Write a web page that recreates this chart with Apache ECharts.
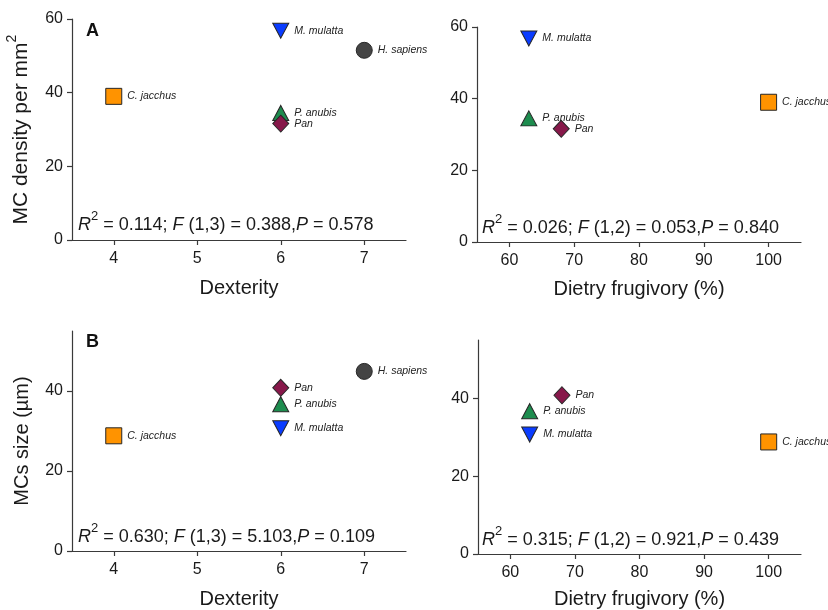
<!DOCTYPE html>
<html>
<head>
<meta charset="utf-8">
<script src="https://cdn.jsdelivr.net/npm/echarts@6/dist/echarts.min.js"></script>
<style>
  html, body { margin: 0; padding: 0; background: #fff; }
  #chart { width: 828px; height: 610px; }
</style>
</head>
<body>
<div id="chart"></div>
<script>
// values
const species = ['C. jacchus', 'M. mulatta', 'H. sapiens', 'P. anubis', 'Pan'];
const dexterity = [4, 6, 7, 6, 6];
const frugivory = [100, 63, null, 63, 68]; // no diet value for H. sapiens
const mcDensity = [39, 56.8, 51.5, 34.5, 31.6];
const mcSize = [28.8, 30.7, 44.9, 36.7, 40.8];

const dexTicks = [4, 5, 6, 7];
const frugTicks = [60, 70, 80, 90, 100];
const densityTicks = [0, 20, 40, 60];
const sizeTicks = [0, 20, 40];

// R2, df, F, P for each panel
const stats = [
  ['0.114', '1,3', '0.388', '0.578'],
  ['0.026', '1,2', '0.053', '0.840'],
  ['0.630', '1,3', '5.103', '0.109'],
  ['0.315', '1,2', '0.921', '0.439']
];

const FONT = 'Liberation Sans, Arial, Helvetica, sans-serif';
const INK = '#1a1a1a';
const AXIS = '#3a3a3a';

const markers = {
  'C. jacchus': { symbol: 'rect', size: 16, rotate: 0, color: '#ff9300' },
  'M. mulatta': { symbol: 'triangle', size: [16, 15], rotate: 180, color: '#0a3cff' },
  'H. sapiens': { symbol: 'circle', size: 16, rotate: 0, color: '#444444' },
  'P. anubis': { symbol: 'triangle', size: [16, 15], rotate: 0, color: '#1d8c4e' },
  'Pan': { symbol: 'diamond', size: [16, 17], rotate: 0, color: '#87184a' }
};

function points(xs, ys) {
  const out = [];
  species.forEach((name, i) => {
    if (xs[i] == null) return;
    const m = markers[name];
    out.push({
      name: name,
      value: [xs[i], ys[i]],
      symbol: m.symbol,
      symbolSize: m.size,
      symbolRotate: m.rotate,
      itemStyle: { color: m.color, opacity: 1, borderColor: '#262626', borderWidth: 1 }
    });
  });
  return out;
}

const grids = [
  { left: 72, top: 19, width: 334, height: 221 },
  { left: 477, top: 27, width: 324, height: 215 },
  { left: 72, top: 331, width: 334, height: 221 },
  { left: 478, top: 340, width: 323, height: 215 }
];

function xAxis(idx, name, min, max, ticks, gap) {
  return {
    type: 'value', gridIndex: idx, min: min, max: max,
    name: name, nameLocation: 'middle', nameGap: gap,
    nameTextStyle: { fontFamily: FONT, fontSize: 20, color: INK },
    axisLine: { show: true, lineStyle: { color: AXIS, width: 1.2 } },
    axisTick: { show: true, length: 5, customValues: ticks, lineStyle: { color: AXIS, width: 1.2 } },
    axisLabel: { customValues: ticks, margin: 11, fontFamily: FONT, fontSize: 16, color: INK },
    splitLine: { show: false }
  };
}

function yAxis(idx, name, max, ticks, nameSize) {
  const ax = {
    type: 'value', gridIndex: idx, min: 0, max: max,
    axisLine: { show: true, onZero: false, lineStyle: { color: AXIS, width: 1.2 } },
    axisTick: { show: true, length: 5, customValues: ticks, lineStyle: { color: AXIS, width: 1.2 } },
    axisLabel: { customValues: ticks, margin: 9, fontFamily: FONT, fontSize: 16, color: INK },
    splitLine: { show: false }
  };
  if (name) {
    ax.name = name;
    ax.nameLocation = 'middle';
    ax.nameGap = 40;
    ax.nameTextStyle = {
      fontFamily: FONT, color: INK,
      rich: {
        n: { fontFamily: FONT, fontSize: nameSize, color: INK, lineHeight: nameSize, verticalAlign: 'bottom' },
        sup: { fontFamily: FONT, fontSize: 14, color: INK, lineHeight: 14, verticalAlign: 'top' },
        sp: { fontSize: 1, lineHeight: nameSize + 6, verticalAlign: 'bottom' }
      }
    };
  }
  return ax;
}

function series(idx, xs, ys) {
  return {
    type: 'scatter', xAxisIndex: idx, yAxisIndex: idx,
    data: points(xs, ys),
    label: {
      show: true, position: 'right', distance: 5,
      formatter: p => p.name,
      fontFamily: FONT, fontStyle: 'italic', fontSize: 10.5, color: '#222'
    }
  };
}

function statText(s, left, top) {
  return {
    type: 'text', left: left, top: top,
    style: {
      text: '{i|R}{sup|2}{sp| }{t|= ' + s[0] + '; }{i|F}{t| (' + s[1] + ') = ' + s[2] + ',}{i|P}{t| = ' + s[3] + '}',
      rich: {
        i: { fontFamily: FONT, fontStyle: 'italic', fontSize: 18, lineHeight: 18, verticalAlign: 'bottom', fill: INK },
        t: { fontFamily: FONT, fontSize: 18, lineHeight: 18, verticalAlign: 'bottom', fill: INK },
        sup: { fontFamily: FONT, fontSize: 13, lineHeight: 13, verticalAlign: 'top', fill: INK },
        sp: { fontFamily: FONT, fontSize: 18, lineHeight: 24, verticalAlign: 'bottom', fill: INK }
      }
    }
  };
}

const chart = echarts.init(document.getElementById('chart'), null, { renderer: 'canvas' });
chart.setOption({
  backgroundColor: '#fff',
  animation: false,
  grid: grids,
  xAxis: [
    xAxis(0, 'Dexterity', 3.5, 7.5, dexTicks, 38),
    xAxis(1, 'Dietry frugivory (%)', 55, 105, frugTicks, 37),
    xAxis(2, 'Dexterity', 3.5, 7.5, dexTicks, 38),
    xAxis(3, 'Dietry frugivory (%)', 55, 105, frugTicks, 35)
  ],
  yAxis: [
    yAxis(0, '{n|MC density per mm}{sup|2}{sp| }', 60, densityTicks, 21),
    yAxis(1, null, 60, densityTicks),
    yAxis(2, '{n|MCs size (µm)}', 55, sizeTicks, 20),
    yAxis(3, null, 55, sizeTicks)
  ],
  series: [
    series(0, dexterity, mcDensity),
    series(1, frugivory, mcDensity),
    series(2, dexterity, mcSize),
    series(3, frugivory, mcSize)
  ],
  graphic: [
    { type: 'text', left: 86, top: 22, style: { text: 'A', font: 'bold 18px ' + FONT, fill: '#111' } },
    { type: 'text', left: 86, top: 333, style: { text: 'B', font: 'bold 18px ' + FONT, fill: '#111' } },
    statText(stats[0], 78, 210),
    statText(stats[1], 482, 213),
    statText(stats[2], 78, 522),
    statText(stats[3], 482, 525)
  ]
});
</script>
</body>
</html>
